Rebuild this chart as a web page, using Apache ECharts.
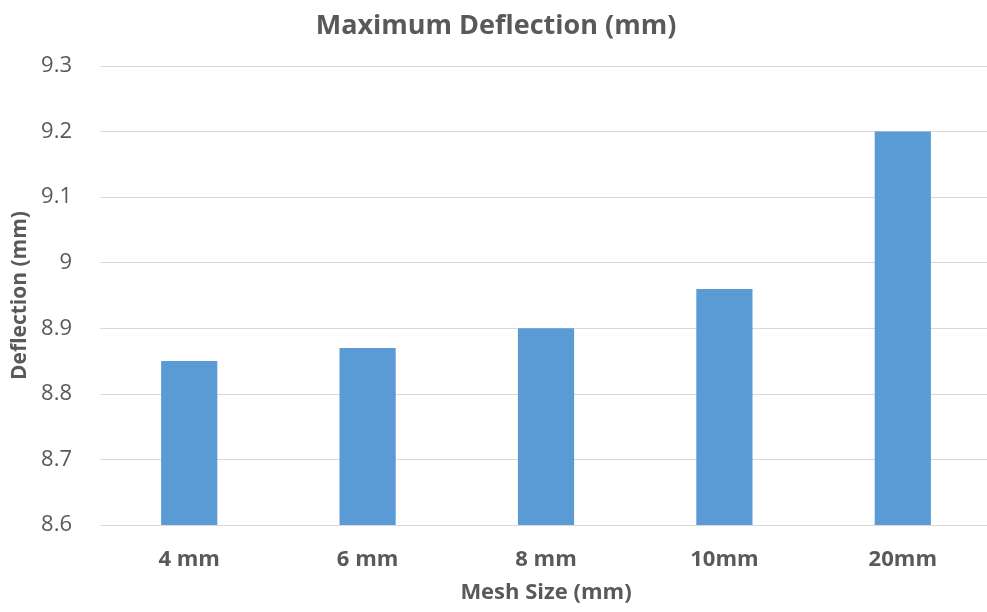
<!DOCTYPE html>
<html>
<head>
<meta charset="utf-8">
<script src="https://cdn.jsdelivr.net/npm/echarts@6/dist/echarts.min.js"></script>
<style>
html,body{margin:0;padding:0;background:#fff;overflow:hidden;width:987px;height:612px;}
#chart{width:992px;height:612px;}
</style>
</head>
<body>
<div id="chart"></div>
<script>
const categories = ['4 mm', '6 mm', '8 mm', '10mm', '20mm'];
const deflection = [8.85, 8.87, 8.90, 8.96, 9.20];
const yTicks = ['8.6', '8.7', '8.8', '8.9', '9', '9.1', '9.2', '9.3'];

const FONT = '"Open Sans", "Liberation Sans", sans-serif';
const GREY = '#595959';

const chart = echarts.init(document.getElementById('chart'), null, {renderer: 'canvas'});
chart.setOption({
  animation: false,
  backgroundColor: '#ffffff',
  title: {
    text: 'Maximum Deflection (mm)',
    left: 'center',
    top: 8,
    textStyle: {fontFamily: FONT, fontSize: 27, fontWeight: 'bold', color: GREY}
  },
  grid: {left: 100, right: 0, top: 66, bottom: 87, containLabel: false},
  xAxis: {
    type: 'category',
    data: categories,
    name: 'Mesh Size (mm)',
    nameLocation: 'middle',
    nameGap: 57,
    nameTextStyle: {fontFamily: FONT, fontSize: 22, fontWeight: 'bold', color: GREY},
    axisLine: {show: false},
    axisTick: {show: false},
    axisLabel: {fontFamily: FONT, fontSize: 22, fontWeight: 'bold', color: GREY, margin: 24}
  },
  yAxis: {
    type: 'value',
    min: 8.6,
    max: 9.3,
    interval: 0.1,
    name: 'Deflection (mm)',
    nameLocation: 'middle',
    nameGap: 60,
    nameRotate: 90,
    nameTextStyle: {fontFamily: FONT, fontSize: 21, fontWeight: 'bold', color: GREY},
    axisLine: {show: false},
    axisTick: {show: false},
    splitLine: {show: true, lineStyle: {color: '#D9D9D9', width: 1}},
    axisLabel: {
      fontFamily: FONT, fontSize: 22, color: GREY, margin: 28,
      formatter: function (v) {
        const idx = Math.round((v - 8.6) / 0.1);
        return yTicks[idx] !== undefined ? yTicks[idx] : '';
      }
    }
  },
  series: [{
    type: 'bar',
    data: deflection,
    barWidth: '31.5%',
    itemStyle: {color: '#5B9BD5'}
  }]
});
</script>
</body>
</html>
